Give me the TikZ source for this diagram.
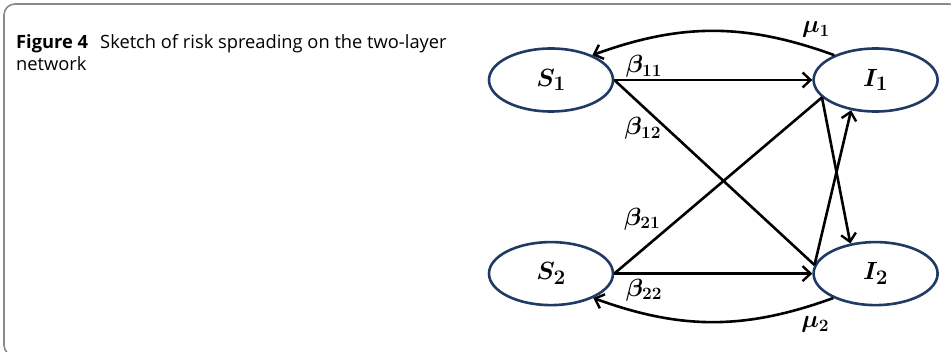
\documentclass[tikz,border=0pt]{standalone}
\usepackage{bm}
\usepackage{fontspec}
\newfontfamily\capfont{Open Sans}
\usetikzlibrary{positioning,arrows.meta,shapes.geometric}
\DeclareMathSizes{24}{24}{18}{14}
\DeclareMathSizes{27}{27}{20}{15}
\definecolor{StateNavy}{HTML}{1F3A64}
\definecolor{FrameGray}{HTML}{8A8A8A}

\begin{document}
\begin{tikzpicture}[x=1pt,y=1pt,
    node distance=128pt and 198pt,
    state/.style={
      ellipse, draw=StateNavy, line width=2.6pt,
      minimum width=124pt, minimum height=63pt, inner sep=0pt,
      font=\fontsize{27}{29}\selectfont
    },
    rate/.style={font=\fontsize{24}{26}\selectfont, inner sep=1pt},
    edge/.style={line width=2.6pt},
    flow/.style={edge, -{Straight Barb[length=8pt,width=15pt,line width=2.4pt]}}
  ]
  \useasboundingbox (0,0) rectangle (951,351);
  % frame and caption
  \draw[FrameGray, line width=1.6pt, rounded corners=11pt] (4,-5) rectangle (960,347);
  \node[anchor=base west, align=left, inner sep=0pt,
        font=\capfont\fontsize{18.3}{22}\selectfont] (cap) at (16,280)
    {\textbf{Figure 4}\hspace{0.4em} Sketch of risk spreading on the two-layer\\network};
  % states
  \node[state] (S1) at (551,271) {$\bm{S_1}$};
  \node[state, right=of S1] (I1) {$\bm{I_1}$};
  \node[state, below=of S1] (S2) {$\bm{S_2}$};
  \node[state, right=of S2] (I2) {$\bm{I_2}$};
  % infection
  \draw[flow] (S1.east) -- node[rate, pos=0.15, above] {$\bm{\beta_{11}}$} (I1.west);
  \draw[flow] (S2.east) -- node[rate, pos=0.15, below, yshift=-3pt] {$\bm{\beta_{22}}$} (I2.west);
  \draw[edge] (S1.east) -- node[rate, pos=0.26, anchor=east, xshift=-3pt] {$\bm{\beta_{12}}$} (I2.172);
  \draw[edge] (S2.east) -- node[rate, pos=0.31, anchor=east, xshift=-16pt] {$\bm{\beta_{21}}$} (I1.198);
  \draw[flow] (I1.198) -- (I2.130);
  \draw[flow] (I2.172) -- (I1.231);
  % recovery
  \draw[flow] (I1.149) to[bend right=20] node[rate, pos=0.07, anchor=south, yshift=9pt] {$\bm{\mu_1}$} (S1.31);
  \draw[flow] (I2.210) to[bend left=20] node[rate, pos=0.07, anchor=north, yshift=-10pt] {$\bm{\mu_2}$} (S2.330);
\end{tikzpicture}
\end{document}
